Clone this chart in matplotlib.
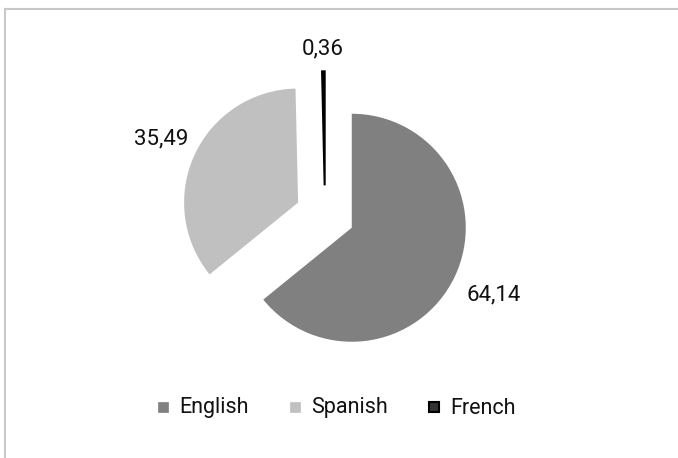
import numpy as np
import matplotlib.pyplot as plt
from matplotlib.lines import Line2D

languages = ['English', 'Spanish', 'French']
shares = [64.14, 35.49, 0.36]
wedge_colors = ['#808080', '#c0c0c0', '#000000']
legend_colors = ['#808080', '#c0c0c0', '#333333']
legend_edges = ['#808080', '#c0c0c0', '#000000']

plt.rcParams['font.family'] = ['Roboto', 'DejaVu Sans']

W, H = 678, 458
fig = plt.figure(figsize=(W / 100, H / 100), dpi=100)
ax = fig.add_axes([0, 0, 1, 1])

# pie centre and radius in pixels
cx, cy, r = 325, 215, 114

explode = [0.26] * len(shares)
wedges, _ = ax.pie(shares, colors=wedge_colors, startangle=90, counterclock=False,
                   explode=explode, radius=1, frame=True,
                   wedgeprops=dict(linewidth=0))
# thin French slice gets a black outline so it reads as a bar
wedges[2].set_edgecolor('#000000')
wedges[2].set_linewidth(1.5)

ax.set_xlim(-cx / r, (W - cx) / r)
ax.set_ylim(-(H - cy) / r, cy / r)
ax.set_aspect('auto')
ax.axis('off')

# value labels outside each exploded wedge
label_dist = [1.38, 1.32, 1.2]
for w, val, d in zip(wedges, shares, label_dist):
    mid = np.deg2rad((w.theta1 + w.theta2) / 2)
    x0, y0 = w.center
    ax.text(x0 + d * np.cos(mid), y0 + d * np.sin(mid),
            f'{val:.2f}'.replace('.', ','), ha='center', va='center',
            fontsize=16, color='#111111')

handles = [Line2D([], [], linestyle='none', marker='s',
                  markersize=7.5 if i == 2 else 6.8,
                  markerfacecolor=c, markeredgecolor=e,
                  markeredgewidth=1.5 if i == 2 else 0.5)
           for i, (c, e) in enumerate(zip(legend_colors, legend_edges))]
fig.legend(handles, languages, loc='center', bbox_to_anchor=(337 / W, 1 - 408 / H), ncol=3,
           frameon=False, fontsize=15.5, handlelength=0.5, handleheight=0.5,
           handletextpad=0.5, columnspacing=1.9, labelcolor='#111111')

# chart area border (top and left edges)
fig.add_artist(Line2D([4.5 / W, 4.5 / W], [0, 1 - 8.5 / H], color='#c8c8c8', linewidth=1.5))
fig.add_artist(Line2D([4.5 / W, 1], [1 - 8.5 / H, 1 - 8.5 / H], color='#c8c8c8', linewidth=1.5))

fig.savefig('out.png', dpi=100)
